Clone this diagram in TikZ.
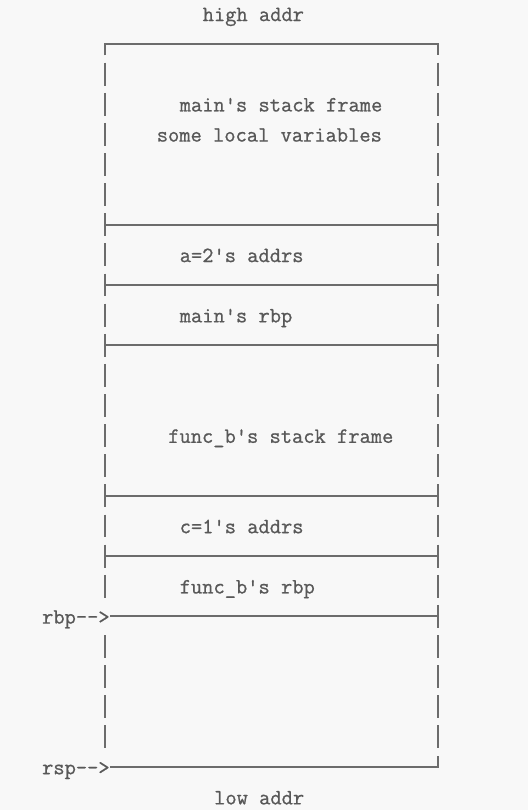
\documentclass[tikz,border=0pt]{standalone}
\usepackage{fontspec}
\newfontfamily\asciifont[FakeBold=0.8]{Latin Modern Mono}
\definecolor{inkgray}{RGB}{88,88,88}
\definecolor{rulegray}{RGB}{108,108,108}
\definecolor{paper}{RGB}{248,248,248}
\tikzset{ascii/.style = {anchor=base west, inner sep=0pt, text=inkgray,
                         font=\fontsize{21.85}{24}\selectfont\asciifont}}
\tikzset{bar/.style = {draw=rulegray, line width=1.8pt}}
\newcommand{\drop}{0.24}

\begin{document}
\begin{tikzpicture}[x=11.47pt, y=30.125pt]
	\fill[paper] (-9.154,1.4606) rectangle (36.879,-25.427);
	\useasboundingbox (-9.154,1.4606) rectangle (36.879,-25.427);
	\node[ascii] (high) at (8.5,1-\drop) {high addr};
	\node[ascii] (mainframe) at (6.5,-2-\drop) {main's stack frame};
	\node[ascii] (locals) at (4.5,-3-\drop) {some local variables};
	\node[ascii] (aaddr) at (6.5,-7-\drop) {a=2's addrs};
	\node[ascii] (mainrbp) at (6.5,-9-\drop) {main's rbp};
	\node[ascii] (bframe) at (5.5,-13-\drop) {func\_b's stack frame};
	\node[ascii] (caddr) at (6.5,-16-\drop) {c=1's addrs};
	\node[ascii] (brbp) at (6.5,-18-\drop) {func\_b's rbp};
	\node[ascii] (rbp) at (-5.5,-19-\drop) {rbp{-}{-}>};
	\node[ascii] (rsp) at (-5.5,-24-\drop) {rsp{-}{-}>};
	\node[ascii] (low) at (9.5,-25-\drop) {low addr};
	\coordinate (rbpend) at (29,-19);
	\coordinate (rspend) at (29,-24);
	\draw[bar] (0,-0.38) -- (0,0) -- (29,0) -- (29,-0.38);
	\foreach \k in {6,8,10,15,17}
		\draw[bar] (0,-\k) -- (29,-\k);
	\draw[bar] (rbp.east |- rbpend) -- (rbpend);
	\draw[bar] (rsp.east |- rspend) -- (rspend) -- ++(0,0.38);
	\foreach \k in {1,...,18,20,21,22,23}
		\draw[bar] (0,{-\k+0.38}) -- (0,{-\k-0.38});
	\foreach \k in {1,...,23}
		\draw[bar] (29,{-\k+0.38}) -- (29,{-\k-0.38});
\end{tikzpicture}
\end{document}
